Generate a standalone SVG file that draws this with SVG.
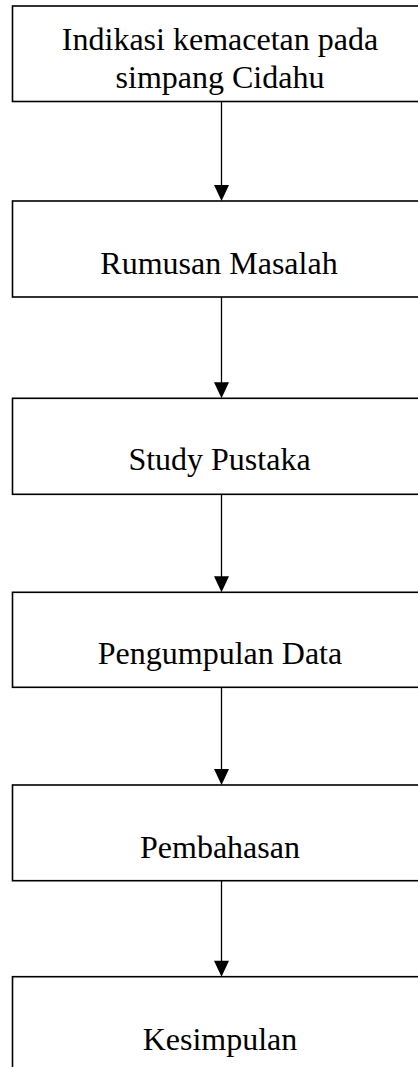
<svg xmlns="http://www.w3.org/2000/svg" width="418" height="1067" viewBox="0 0 418 1067">
<style>
.box{fill:#fff;stroke:#000;stroke-width:1.6}
.lbl{font-family:"Liberation Serif","Times New Roman",serif;font-size:32px;fill:#000;text-anchor:middle}
.con{stroke:#000;stroke-width:1.3;fill:none}
.head{fill:#000;stroke:none}
</style>
<rect width="418" height="1067" fill="#fff"/>
<g id="n1"><rect class="box" x="12.5" y="6" width="420" height="95.5"/><text class="lbl" x="220" y="49.5">Indikasi kemacetan pada</text><text class="lbl" x="220" y="87.5">simpang Cidahu</text></g>
<g id="n2"><rect class="box" x="12.5" y="201" width="420" height="96"/><text class="lbl" x="219" y="274">Rumusan Masalah</text></g>
<g id="n3"><rect class="box" x="12.5" y="398.3" width="420" height="96"/><text class="lbl" x="219.5" y="470">Study Pustaka</text></g>
<g id="n4"><rect class="box" x="12.5" y="592.3" width="420" height="95"/><text class="lbl" x="220" y="664">Pengumpulan Data</text></g>
<g id="n5"><rect class="box" x="12.5" y="785" width="420" height="95.7"/><text class="lbl" x="220" y="858">Pembahasan</text></g>
<g id="n6"><rect class="box" x="12.5" y="976.7" width="420" height="120"/><text class="lbl" x="220" y="1050">Kesimpulan</text></g>
<g id="connectors">
<line class="con" x1="221.5" y1="101.5" x2="221.5" y2="188"/><polygon class="head" points="214,185 229,185 221.5,201"/>
<line class="con" x1="221.5" y1="297" x2="221.5" y2="385"/><polygon class="head" points="214,382.3 229,382.3 221.5,398.3"/>
<line class="con" x1="221.5" y1="494.3" x2="221.5" y2="579"/><polygon class="head" points="214,576.3 229,576.3 221.5,592.3"/>
<line class="con" x1="221.5" y1="687.3" x2="221.5" y2="772"/><polygon class="head" points="214,769 229,769 221.5,785"/>
<line class="con" x1="221.5" y1="880.7" x2="221.5" y2="964"/><polygon class="head" points="214,960.7 229,960.7 221.5,976.7"/>
</g>
</svg>
